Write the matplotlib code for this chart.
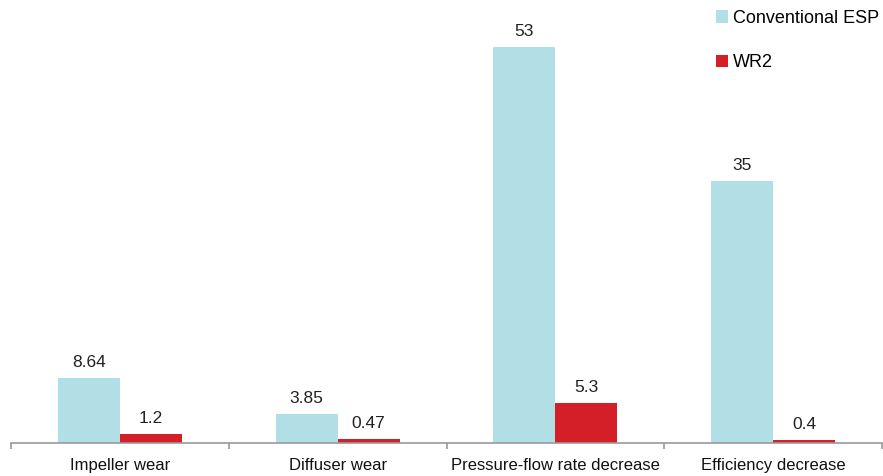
import matplotlib
matplotlib.use("Agg")
import matplotlib.pyplot as plt
from matplotlib.ticker import FixedLocator, NullFormatter, FixedFormatter
from matplotlib import font_manager
import numpy as np

categories = ["Impeller wear", "Diffuser wear", "Pressure-flow rate decrease", "Efficiency decrease"]
conventional = [8.64, 3.85, 53, 35]
wr2 = [1.2, 0.47, 5.3, 0.4]
conv_labels = ["8.64", "3.85", "53", "35"]
wr2_labels = ["1.2", "0.47", "5.3", "0.4"]
series_names = ["Conventional ESP", "WR2"]

CYAN = "#B1DFE5"
RED = "#D51F28"

available = {f.name for f in font_manager.fontManager.ttflist}
families = [f for f in ["Liberation Sans Narrow", "Liberation Sans", "DejaVu Sans"] if f in available]
plt.rcParams["font.family"] = families
plt.rcParams["font.size"] = 12.5

W, H = 883, 476
fig = plt.figure(figsize=(W / 100, H / 100), dpi=100)
# axes spans from the baseline (y=443 px) to the top of the figure
ax = fig.add_axes([11 / W, 33 / H, (882 - 11) / W, 443 / H])

x = np.arange(len(categories))
bw = 0.285
b1 = ax.bar(x - bw / 2, conventional, bw, color=CYAN, label=series_names[0])
b2 = ax.bar(x + bw / 2, wr2, bw, color=RED, label=series_names[1])

for rect, lab in zip(b1, conv_labels):
    ax.annotate(lab, (rect.get_x() + rect.get_width() / 2, rect.get_height()),
                xytext=(0, 6), textcoords="offset points",
                ha="center", va="bottom", color="#222222", fontsize=12.5)
for rect, lab in zip(b2, wr2_labels):
    ax.annotate(lab, (rect.get_x() + rect.get_width() / 2, rect.get_height()),
                xytext=(0, 6), textcoords="offset points",
                ha="center", va="bottom", color="#222222", fontsize=12.5)

ax.set_xlim(-0.5, len(categories) - 0.5)
ax.set_ylim(0, 53 * 443 / 396)

for s in ["top", "right", "left"]:
    ax.spines[s].set_visible(False)
ax.spines["bottom"].set_color("#9A9A9A")
ax.spines["bottom"].set_linewidth(1.2)

ax.yaxis.set_visible(False)
ax.xaxis.set_major_locator(FixedLocator(np.arange(-0.5, len(categories), 1.0)))
ax.xaxis.set_major_formatter(NullFormatter())
ax.xaxis.set_minor_locator(FixedLocator(x))
ax.xaxis.set_minor_formatter(FixedFormatter(categories))
ax.tick_params(axis="x", which="major", length=4, width=1.2, color="#9A9A9A", direction="out")
ax.tick_params(axis="x", which="minor", length=0, pad=10.5, labelsize=12, labelcolor="#111111")

fig.legend(handles=[b1, b2], labels=series_names, loc="upper left",
           bbox_to_anchor=(716 / W, 1 - 10 / H), frameon=False,
           handlelength=0.68, handleheight=0.68, handletextpad=0.25,
           labelspacing=1.5, borderpad=0, borderaxespad=0, fontsize=13)

fig.savefig("out.png", dpi=100)
